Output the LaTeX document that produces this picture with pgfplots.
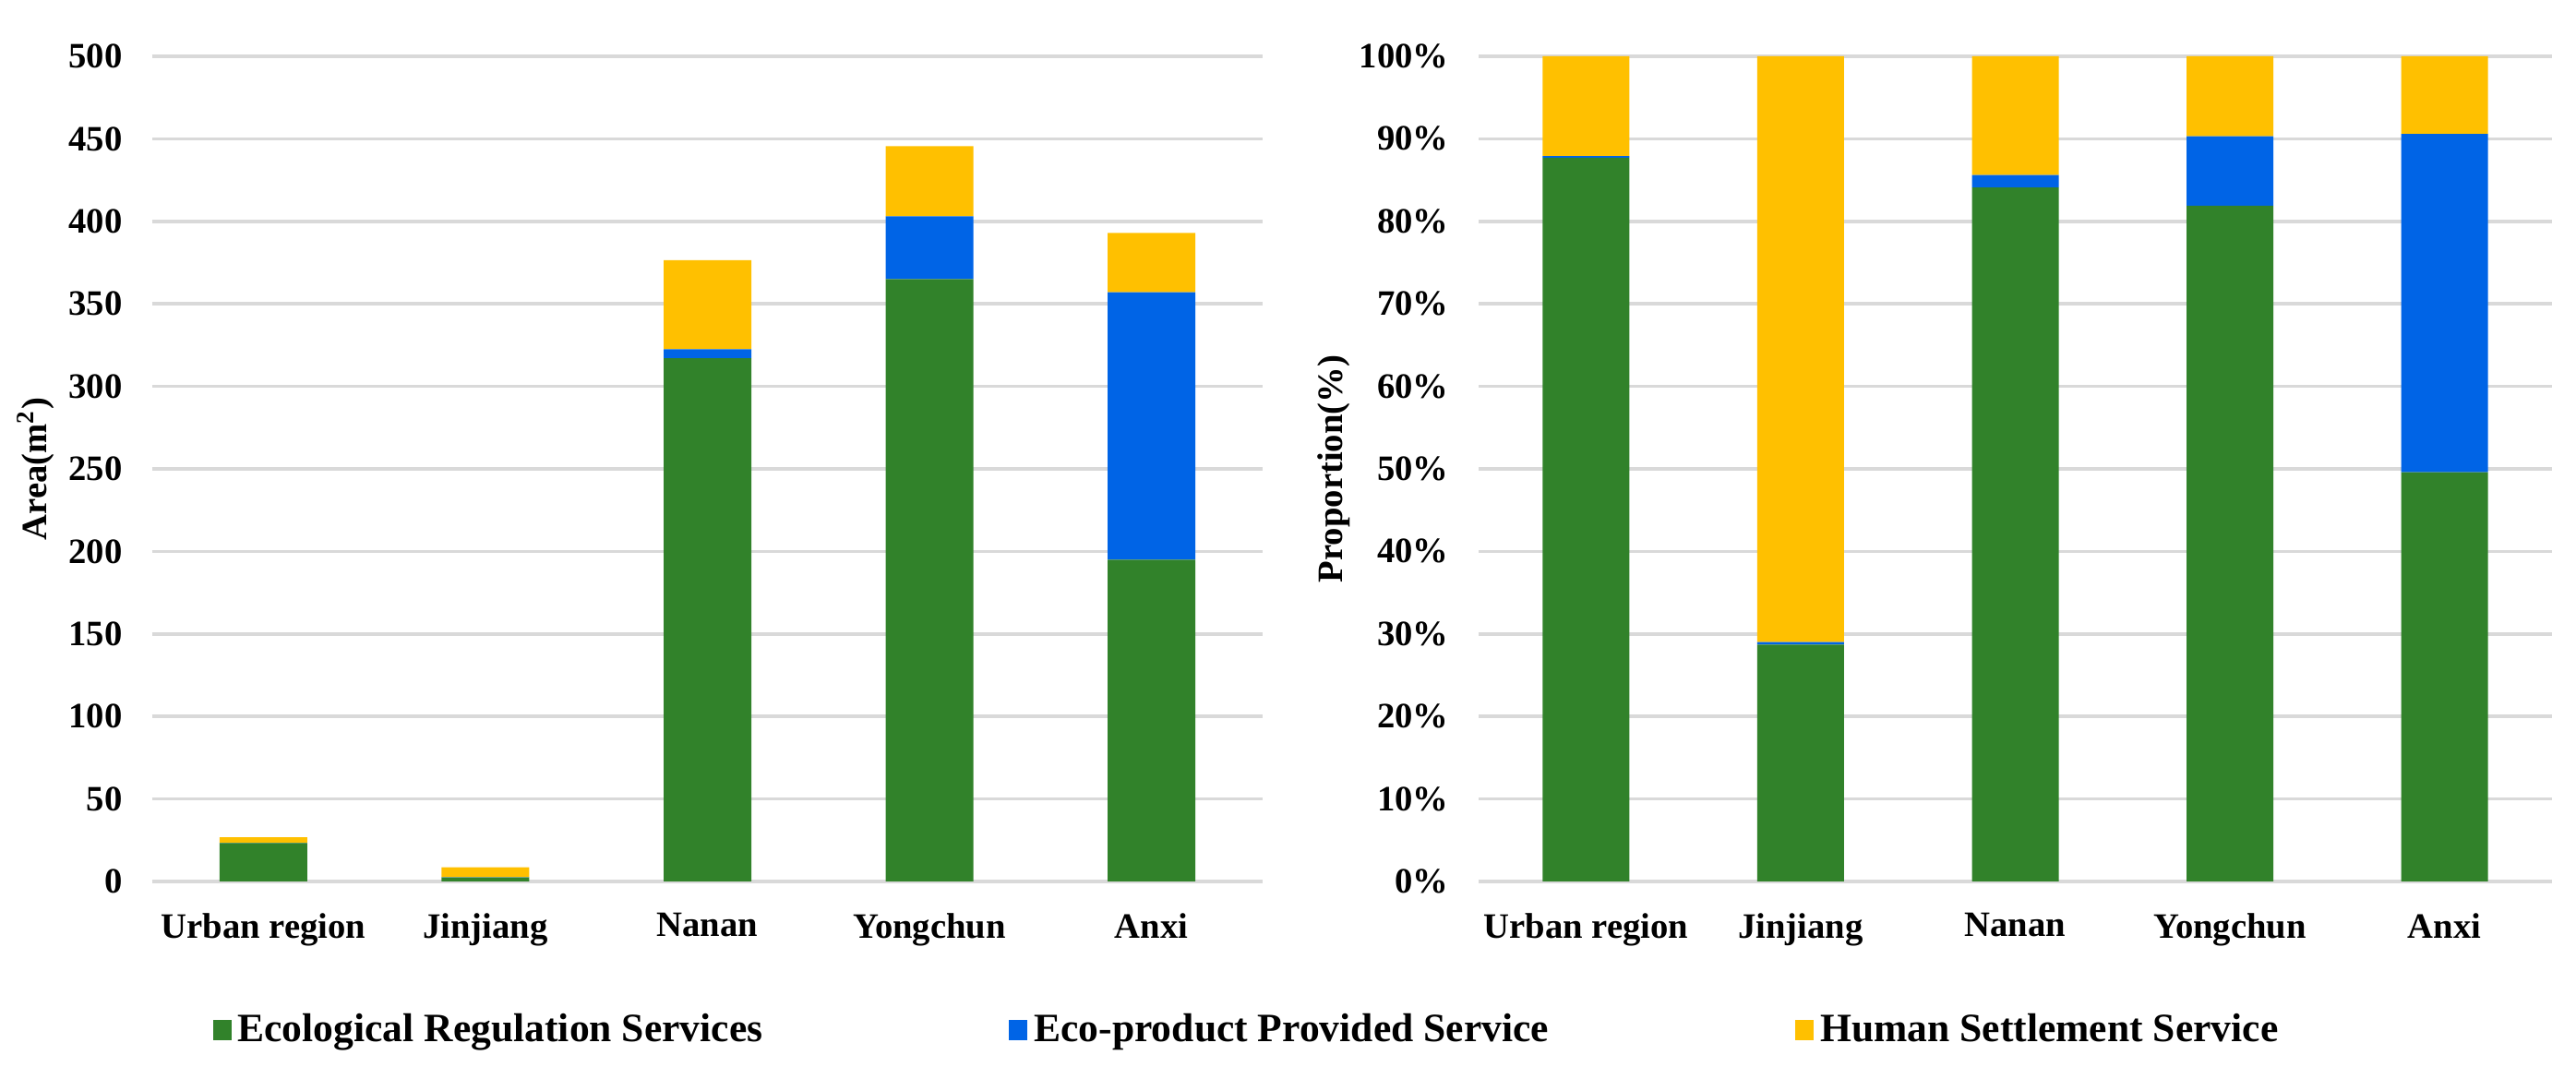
\documentclass[border=0pt]{standalone}
\usepackage{fontspec}
\setmainfont{Liberation Serif}
\usepackage{pgfplots}
\pgfplotsset{compat=1.18}
\usepackage{pgfplotstable}

\definecolor{ergreen}{HTML}{31822A}
\definecolor{epblue}{HTML}{0064E6}
\definecolor{hsyellow}{HTML}{FFC000}
\definecolor{gridgray}{HTML}{D9D9D9}

% area (m2) per service
\pgfplotstableread{
x er ep hs
0 23.3 0.1 3.3
1 2.5 0.05 6.1
2 317 5.5 54
3 365 38 42.5
4 195 162 36
}\areas

% share (%) per service
\pgfplotstableread{
x er ep hs
0 87.7 0.2 12.1
1 28.7 0.3 71.0
2 84.1 1.5 14.4
3 81.9 8.4 9.7
4 49.6 41.0 9.4
}\shares

\pgfplotsset{
  panel/.style={
    scale only axis, height=8.94cm,
    ybar stacked,
    xmin=-0.5, xmax=4.5, xtick={0,...,4},
    xticklabels={Urban region, Jinjiang, Nanan, Yongchun, Anxi},
    ymin=0,
    axis line style={draw=none}, major tick length=0pt,
    ymajorgrids, grid style={gridgray, line width=1pt},
    tick label style={font=\fontsize{11}{13}\selectfont\bfseries},
    /pgf/number format/assume math mode=true,
    xticklabel style={yshift=-0.22cm},
    yticklabel style={xshift=-0.2cm},
    label style={font=\fontsize{11}{13}\selectfont\bfseries},
  },
  sq/.style={draw=none, fill=#1,
    legend image code/.code={\fill[#1] (0cm,-0.11cm) rectangle (0.2cm,0.11cm);}},
}

\begin{document}
\begin{tikzpicture}
\path[use as bounding box] (-1.65,-2.01) rectangle (26.26,9.55);

\begin{axis}[panel, at={(0,0)}, anchor=south west,
  width=12.03cm, bar width=0.95cm,
  ymax=500, ytick distance=50,
  ylabel={Area(m\textsuperscript{2})},
  ylabel style={at={(axis description cs:-0.105,0.5)}, anchor=center},
  legend columns=3,
  legend style={at={(0.9875,-0.180)}, anchor=center, draw=none,
    font=\fontsize{12.4}{14}\selectfont\bfseries,
    /tikz/every even column/.append style={column sep=2.6cm}},
]
\addplot[sq=ergreen] table[x=x, y=er] {\areas};
\addplot[sq=epblue] table[x=x, y=ep] {\areas};
\addplot[sq=hsyellow] table[x=x, y=hs] {\areas};
\legend{Ecological Regulation Services, Eco-product Provided Service, Human Settlement Service}
\end{axis}

\begin{axis}[panel, at={(14.37cm,0)}, anchor=south west,
  width=11.63cm, bar width=0.94cm,
  ymax=100, ytick={0,10,...,100},
  yticklabel={\pgfmathprintnumber{\tick}\%},
  ylabel={Proportion(\%)},
  ylabel style={at={(axis description cs:-0.135,0.5)}, anchor=center},
]
\addplot[sq=ergreen] table[x=x, y=er] {\shares};
\addplot[sq=epblue] table[x=x, y=ep] {\shares};
\addplot[sq=hsyellow] table[x=x, y=hs] {\shares};
\end{axis}
\end{tikzpicture}
\end{document}
